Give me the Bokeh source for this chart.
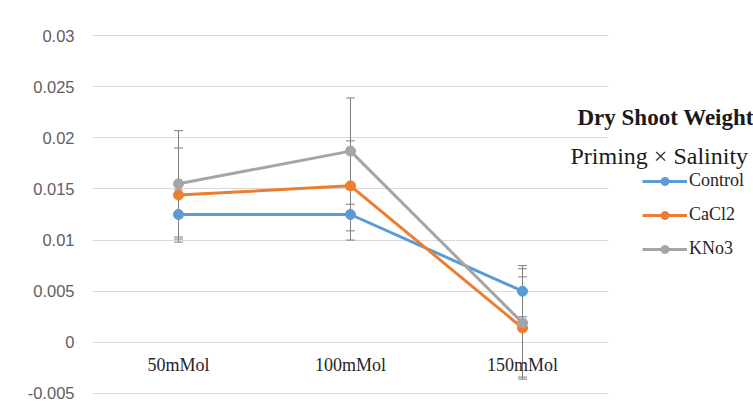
from bokeh.plotting import figure
from bokeh.models import (ColumnDataSource, Range1d, FixedTicker, Whisker,
                          TeeHead, Legend, LegendItem, Label, BoxAnnotation)
from bokeh.core.properties import value
from bokeh.embed import file_html
from bokeh.resources import INLINE

categories = ["50mMol", "100mMol", "150mMol"]
series_names = ["Control", "CaCl2", "KNo3"]
control = [0.0125, 0.0125, 0.0050]
cacl2 = [0.0144, 0.0153, 0.0014]
kno3 = [0.0155, 0.0187, 0.0019]
control_err = [0.0024, 0.0025, 0.0025]
cacl2_err = [0.0046, 0.0044, 0.0050]
kno3_err = [0.0052, 0.0052, 0.0053]
y_ticks = [-0.005, 0.0, 0.005, 0.01, 0.015, 0.02, 0.025, 0.03]
y_tick_labels = ["-0.005", "0", "0.005", "0.01", "0.015", "0.02", "0.025", "0.03"]
title_1 = "Dry Shoot Weight"
title_2 = "Priming \u00d7 Salinity"

colors = ["#5b9bd5", "#ed7d31", "#a5a5a5"]
serif = "Liberation Serif"

W, H = 753, 407
left_b, top_b, bottom_b = 92, 33, 12
cat_px = 172  # pixel width of one category slot
xs = list(range(len(categories)))
x_end = -0.5 + (W - left_b) / cat_px

p = figure(width=W, height=H, x_range=Range1d(-0.5, x_end),
           y_range=Range1d(-0.0052, 0.0302), output_backend="svg",
           toolbar_location=None, min_border_left=left_b, min_border_right=0,
           min_border_top=top_b, min_border_bottom=bottom_b)
p.outline_line_color = None
p.background_fill_color = "white"
p.xgrid.grid_line_color = None
p.ygrid.grid_line_color = "#d9d9d9"
p.ygrid.grid_line_width = 1
p.xaxis.visible = False
p.yaxis.ticker = FixedTicker(ticks=y_ticks)
p.yaxis.major_label_overrides = {t: l for t, l in zip(y_ticks, y_tick_labels)}
p.yaxis.axis_line_color = None
p.yaxis.major_tick_line_color = None
p.yaxis.minor_tick_line_color = None
p.yaxis.major_tick_out = 0
p.yaxis.major_label_standoff = 18
p.yaxis.major_label_text_font = "Liberation Sans"
p.yaxis.major_label_text_font_size = "16.5px"
p.yaxis.major_label_text_color = "#606060"

# plot area ends after the last category; hide grid beyond it (legend area)
p.add_layout(BoxAnnotation(left=len(categories) - 0.5, fill_color="white", fill_alpha=1,
                           line_color=None, level="underlay"))

# category labels drawn at the zero line (Excel style)
p.text(x=xs, y=[0.0] * len(categories), text=categories, y_offset=23,
       text_align="center", text_baseline="middle", text_font=value(serif),
       text_font_size="18px", text_color="#262626")

data = [control, cacl2, kno3]
errs = [control_err, cacl2_err, kno3_err]
for vals, err in zip(data, errs):
    src = ColumnDataSource(dict(x=xs,
                                lower=[v - e for v, e in zip(vals, err)],
                                upper=[v + e for v, e in zip(vals, err)]))
    w = Whisker(base="x", lower="lower", upper="upper", source=src,
                line_color="#7f7f7f", line_width=1,
                upper_head=TeeHead(size=9, line_color="#7f7f7f", line_width=1),
                lower_head=TeeHead(size=9, line_color="#7f7f7f", line_width=1))
    p.add_layout(w)

items = []
for name, vals, c in zip(series_names, data, colors):
    src = ColumnDataSource(dict(x=xs, y=vals))
    l = p.line("x", "y", source=src, line_color=c, line_width=3)
    s = p.scatter("x", "y", source=src, size=10, fill_color=c, line_color=c)
    items.append(LegendItem(label=name, renderers=[l, s]))

legend = Legend(items=items, location=(550, 136), orientation="vertical",
                glyph_width=45, glyph_height=20, label_height=20, spacing=13,
                label_standoff=2, padding=0, margin=0,
                label_text_font=serif, label_text_font_size="18px",
                label_text_color="#262626",
                border_line_color=None, background_fill_alpha=0)
p.add_layout(legend)

p.add_layout(Label(x=485, y=278, x_units="screen", y_units="screen", text=title_1,
                   text_font=serif, text_font_size="23px", text_font_style="bold",
                   text_baseline="alphabetic", text_color="#1a1a1a"))
p.add_layout(Label(x=478, y=240, x_units="screen", y_units="screen", text=title_2,
                   text_font=serif, text_font_size="24px",
                   text_baseline="alphabetic", text_color="#1a1a1a"))

open("out.html", "w").write(file_html(p, INLINE))
